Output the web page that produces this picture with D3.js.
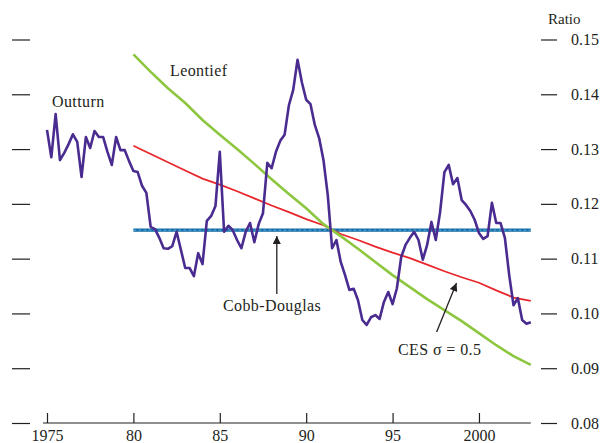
<!DOCTYPE html>
<html><head><meta charset="utf-8">
<script src="https://cdn.jsdelivr.net/npm/d3@7"></script>
<style>
html,body{margin:0;padding:0;background:#fff;}
svg{display:block;}
text{font-family:"Liberation Serif","Times New Roman",serif;fill:#231f20;}
</style></head>
<body>
<svg id="c" width="605" height="443"></svg>
<script>
// ---- data ----
const outturnStart = 1975; // quarterly from 1975 Q1
const outturn = [
0.1335,0.1285,0.1364,0.1280,0.1293,0.1309,0.1327,0.1313,0.1249,0.1322,
0.1302,0.1333,0.1322,0.1322,0.1295,0.1271,0.1322,0.1298,0.1298,0.1278,
0.1260,0.1258,0.1233,0.1220,0.1158,0.1154,0.1138,0.1119,0.1118,0.1123,
0.1149,0.1116,0.1083,0.1083,0.1068,0.1110,0.1090,0.1169,0.1178,0.1196,
0.1295,0.1149,0.1160,0.1152,0.1134,0.1119,0.1149,0.1165,0.1130,0.1163,
0.1183,0.1275,0.1265,0.1295,0.1315,0.1326,0.1380,0.1408,0.1463,0.1422,
0.1390,0.1382,0.1344,0.1320,0.1280,0.1216,0.1119,0.1134,0.1094,0.1070,
0.1043,0.1045,0.1024,0.0988,0.0979,0.0993,0.0997,0.0990,0.1021,0.1039,
0.1017,0.1046,0.1103,0.1125,0.1138,0.1149,0.1134,0.1098,0.1125,0.1167,
0.1134,0.1185,0.1258,0.1271,0.1236,0.1247,0.1207,0.1198,0.1187,0.1171,
0.1147,0.1136,0.1141,0.1202,0.1165,0.1165,0.1138,0.1070,0.1015,0.1028,
0.0988,0.0981,0.0984];
const modelYears = d3.range(1980, 2004); // 1980..2003
const leontief = [0.1473,0.1441,0.1411,0.1384,0.1353,0.1326,0.1300,0.1273,0.1245,0.1218,
0.1192,0.1163,0.1141,0.1118,0.1094,0.1070,0.1048,0.1026,0.1006,0.0986,
0.0964,0.0942,0.0922,0.0906];
const ces = [0.1306,0.1291,0.1276,0.1261,0.1246,0.1235,0.1223,0.1210,0.1197,0.1185,
0.1172,0.1161,0.1145,0.1134,0.1122,0.1111,0.1101,0.1089,0.1077,0.1066,
0.1056,0.1042,0.1029,0.1023];
const cobbDouglas = modelYears.map(() => 0.1152);
const xTicks = [1975, 1980, 1985, 1990, 1995, 2000];
const xTickLabels = ["1975", "80", "85", "90", "95", "2000"];
const yTicks = [0.08, 0.09, 0.10, 0.11, 0.12, 0.13, 0.14, 0.15];
const yTickLabels = ["0.08", "0.09", "0.10", "0.11", "0.12", "0.13", "0.14", "0.15"];

// ---- chart ----
const svg = d3.select("#c");
const x = d3.scaleLinear().domain([1975, 2003]).range([47, 530.8]);
const y = d3.scaleLinear().domain([0.08, 0.15]).range([423, 39.5]);

// left ticks
const la = svg.append("g").attr("transform", "translate(30,0)")
  .call(d3.axisLeft(y).tickValues(yTicks).tickSize(18).tickFormat(""));
la.select(".domain").remove();
la.selectAll("line").attr("stroke", "#231f20").attr("stroke-width", 1.2);

// right ticks
const ra = svg.append("g").attr("transform", "translate(541,0)")
  .call(d3.axisRight(y).tickValues(yTicks).tickSize(16).tickPadding(14)
    .tickFormat((d, i) => yTickLabels[i]));
ra.select(".domain").remove();
ra.selectAll("line").attr("stroke", "#231f20").attr("stroke-width", 1.2);
ra.selectAll("text").attr("font-size", 16).attr("font-family", "Liberation Serif, serif").attr("fill", "#231f20");

// x axis
const xa = svg.append("g").attr("transform", "translate(0,423)")
  .call(d3.axisBottom(x).tickValues(xTicks).tickSizeInner(-10).tickSizeOuter(0).tickPadding(0)
    .tickFormat((d, i) => xTickLabels[i]));
xa.select(".domain").attr("d", `M43,0H530.8`).attr("stroke", "#231f20").attr("stroke-width", 1.2);
xa.selectAll("line").attr("stroke", "#231f20").attr("stroke-width", 1.2);
xa.selectAll("text").attr("font-size", 16).attr("font-family", "Liberation Serif, serif").attr("fill", "#231f20")
  .attr("y", 18).attr("dy", "0");

svg.append("text").attr("x", 548).attr("y", 24).attr("font-size", 15).text("Ratio");

const line = d3.line().x(d => x(d[0])).y(d => y(d[1]));

// Cobb-Douglas
const cdData = modelYears.map((t, i) => [t, cobbDouglas[i]]);
svg.append("path").attr("d", line(cdData)).attr("fill", "none")
  .attr("stroke", "#0e6aa6").attr("stroke-width", 3.2);
svg.append("path").attr("d", line(cdData)).attr("fill", "none")
  .attr("stroke", "#7ec0e6").attr("stroke-width", 0.8).attr("stroke-dasharray", "3,2");

// CES
svg.append("path").attr("d", line(modelYears.map((t, i) => [t, ces[i]]))).attr("fill", "none")
  .attr("stroke", "#e8262b").attr("stroke-width", 1.8);

// Leontief
svg.append("path").attr("d", line(modelYears.map((t, i) => [t, leontief[i]]))).attr("fill", "none")
  .attr("stroke", "#8dc63f").attr("stroke-width", 2.6);

// Outturn
svg.append("path").attr("d", line(outturn.map((v, i) => [outturnStart + i / 4, v]))).attr("fill", "none")
  .attr("stroke", "#4a2c91").attr("stroke-width", 2.6).attr("stroke-linejoin", "round");

// labels
svg.append("text").attr("x", 52).attr("y", 107).attr("font-size", 16).attr("letter-spacing", 0.4).text("Outturn");
svg.append("text").attr("x", 170).attr("y", 76).attr("font-size", 16).attr("letter-spacing", 0.4).text("Leontief");
svg.append("text").attr("x", 223).attr("y", 311).attr("font-size", 16).attr("letter-spacing", 0.4).text("Cobb-Douglas");
svg.append("text").attr("x", 398).attr("y", 355).attr("font-size", 16).attr("letter-spacing", 0.4).text("CES σ = 0.5");

// arrows
const defs = svg.append("defs");
defs.append("marker").attr("id", "ah").attr("viewBox", "0 0 10 10").attr("refX", 10).attr("refY", 5)
  .attr("markerWidth", 10).attr("markerHeight", 8).attr("markerUnits", "userSpaceOnUse").attr("orient", "auto")
  .append("path").attr("d", "M0,0L10,5L0,10Z").attr("fill", "#231f20");
svg.append("line").attr("x1", x(1988.3)).attr("y1", 294).attr("x2", x(1988.3)).attr("y2", 236)
  .attr("stroke", "#231f20").attr("stroke-width", 1.3).attr("marker-end", "url(#ah)");
svg.append("line").attr("x1", x(1997.55)).attr("y1", 332).attr("x2", x(1998.7)).attr("y2", 283)
  .attr("stroke", "#231f20").attr("stroke-width", 1.3).attr("marker-end", "url(#ah)");
</script>
</body></html>
